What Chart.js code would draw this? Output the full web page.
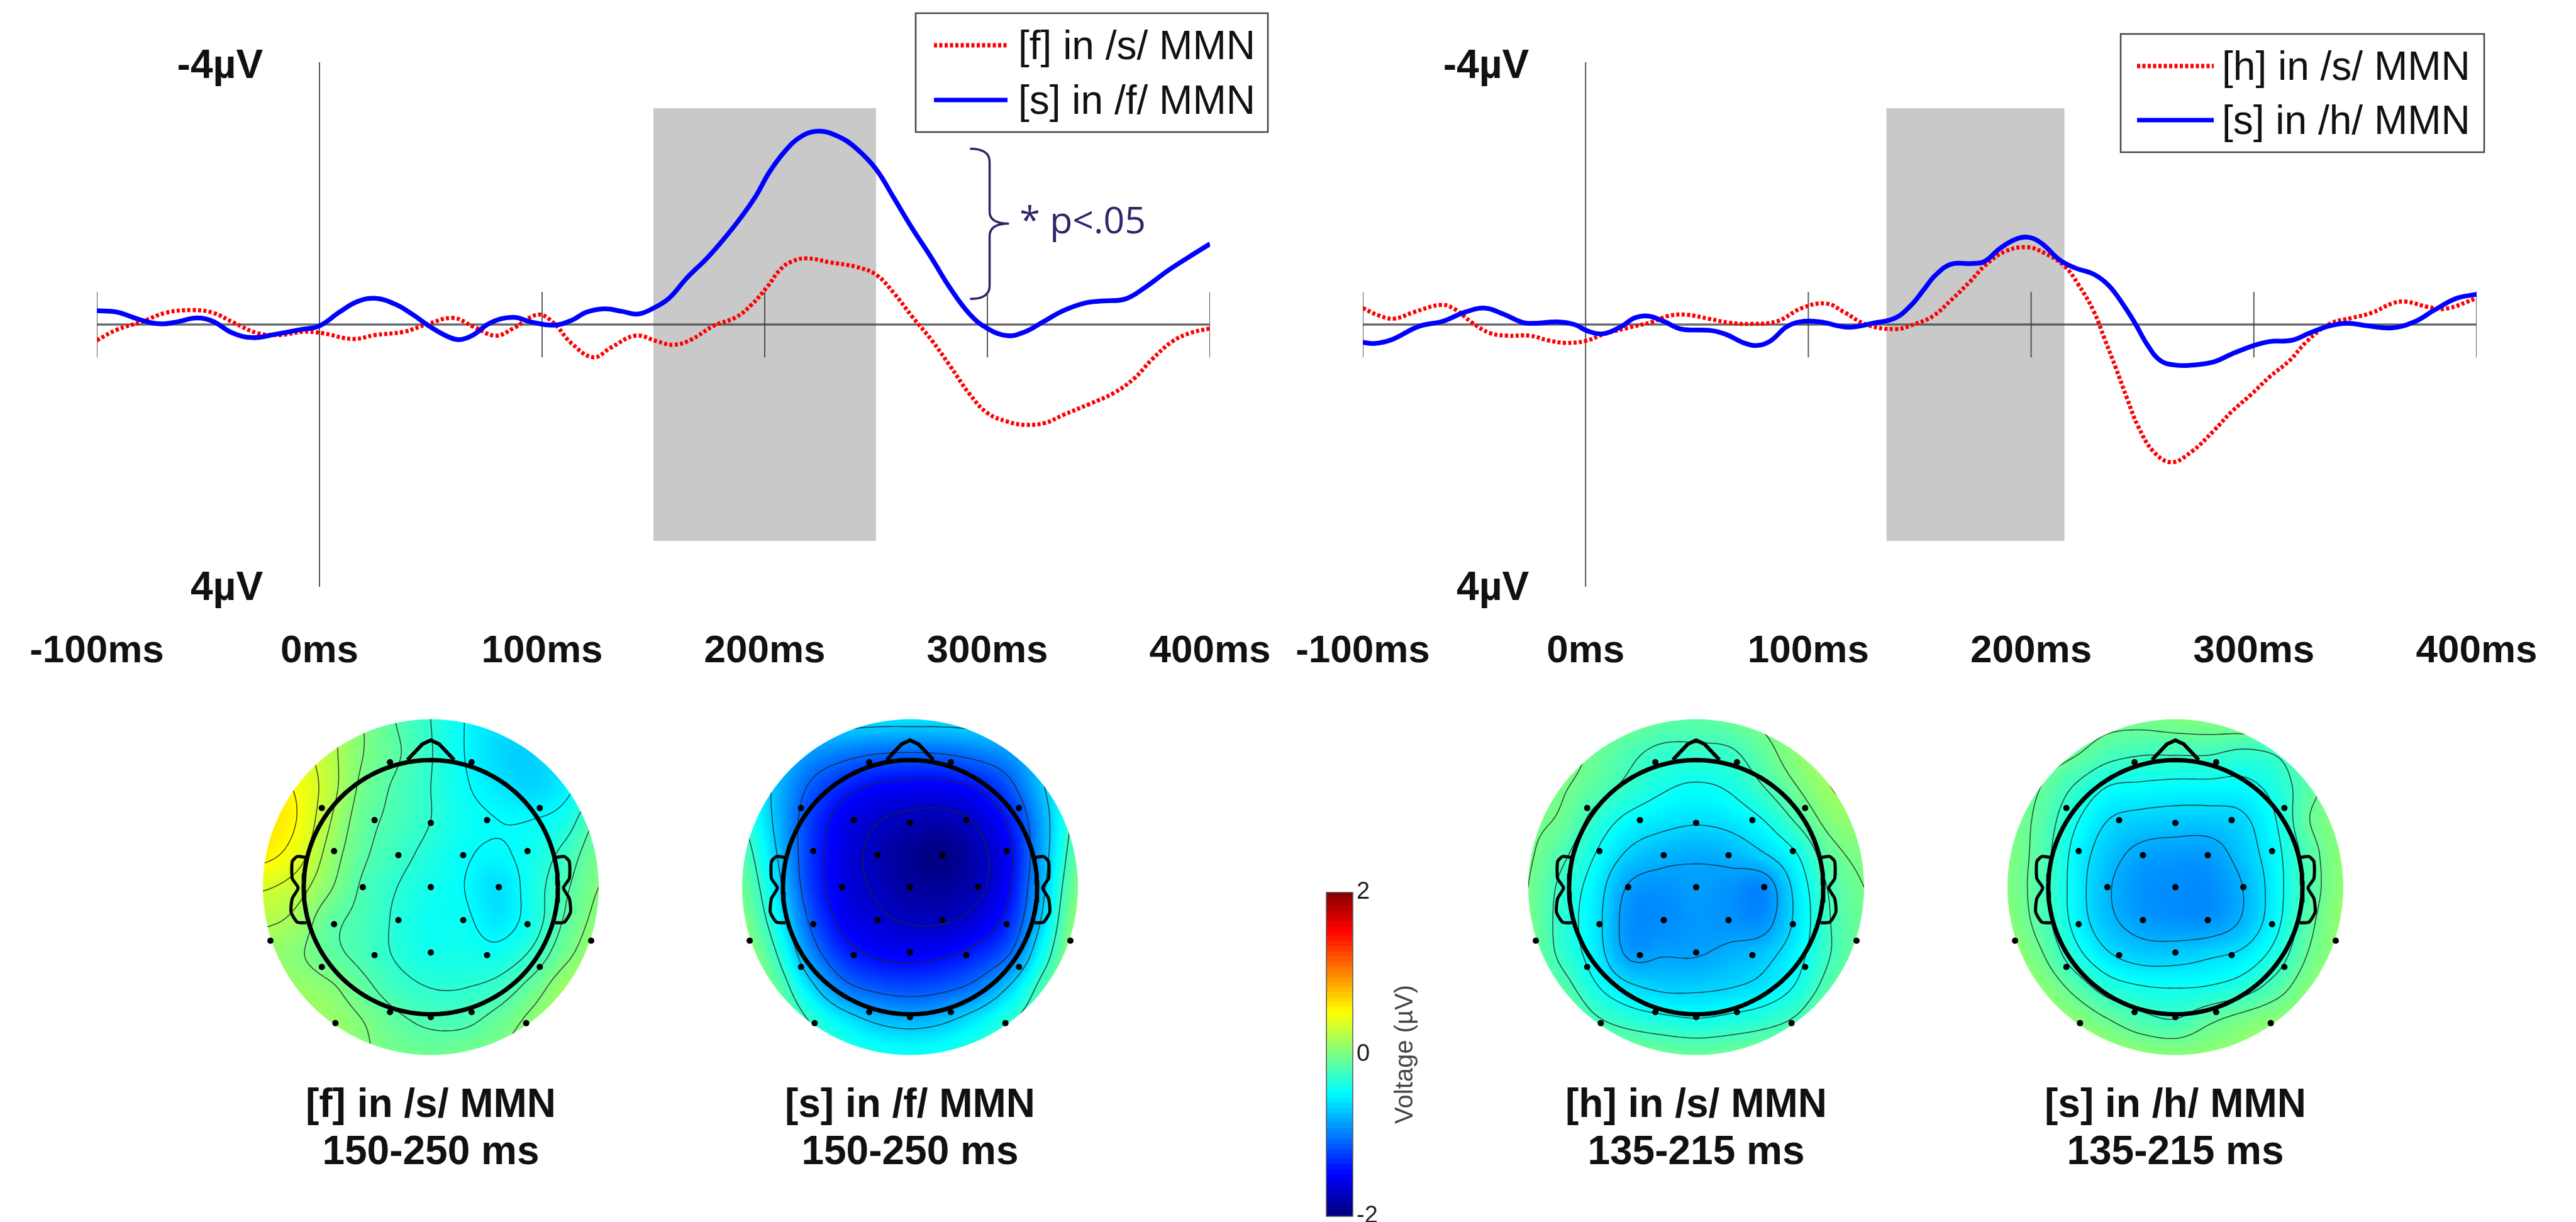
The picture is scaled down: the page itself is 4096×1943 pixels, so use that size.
<!DOCTYPE html>
<html><head><meta charset="utf-8">
<style>
html,body{margin:0;padding:0;background:#fff;width:4096px;height:1943px;overflow:hidden}
#wrap{position:fixed;left:0;top:0;width:4096px;height:1943px;overflow:hidden;background:#fff}
canvas{position:absolute;display:block}
</style>
<script src="https://cdn.jsdelivr.net/npm/chart.js@4/dist/chart.umd.min.js"></script>
</head><body><div id="wrap"></div>
<script>
/* ---------- waveform data (ms, µV; negative is plotted upward) ---------- */
const xTicks = [-100,0,100,200,300,400];
const yTicks = [-3.93,4.03];
const tickMarks = [-100,100,200,300,400];

const fsLabels = ['[f] in /s/ MMN','[s] in /f/ MMN'];
const fsWindow = [150,250];
const fsRedT = [-100,-91,-80,-69,-57,-48,-38,-28,-18,-7,1,15,25,38,48,60,69,79,87,98,105,113,123,131,142,152,159,167,177,187,194,201,207,212,219,229,241,250,258,266,275,283,292,300,309,317,326,334,346,357,366,374,383,391,400];
const fsRedV = [.24,.08,-.04,-.18,-.22,-.18,-.02,.13,.16,.11,.13,.22,.16,.11,0,-.10,.03,.17,.06,-.15,-.03,.28,.50,.35,.17,.26,.31,.23,.02,-.11,-.30,-.57,-.84,-.96,-1.01,-.95,-.88,-.76,-.48,-.13,.24,.62,1.06,1.35,1.48,1.53,1.50,1.38,1.21,1.04,.82,.53,.26,.13,.06];
const fsBlueT = [-100,-91,-83,-76,-70,-64,-55,-48,-39,-30,-20,-9,0,9,17,25,34,42,50,58,63,69,77,87,95,105,113,120,128,136,143,150,157,165,174,182,189,196,202,209,216,224,233,241,250,258,266,275,283,292,300,309,317,325,334,344,352,362,371,381,391,400];
const fsBlueV = [-.21,-.19,-.10,-.03,-.01,-.04,-.10,-.05,.13,.20,.15,.08,.02,-.19,-.35,-.40,-.31,-.15,.04,.19,.23,.16,-.03,-.11,-.04,.01,-.06,-.19,-.24,-.20,-.16,-.25,-.40,-.71,-1.01,-1.32,-1.62,-1.96,-2.32,-2.64,-2.86,-2.95,-2.87,-2.69,-2.37,-1.93,-1.48,-1.01,-.57,-.16,.06,.17,.11,-.04,-.21,-.33,-.36,-.39,-.57,-.82,-1.04,-1.23];

const hsLabels = ['[h] in /s/ MMN','[s] in /h/ MMN'];
const hsWindow = [135,215];
const hsRedT = [-100,-93,-86,-77,-65,-59,-51,-43,-35,-25,-17,-9,0,8,19,30,37,45,55,64,74,86,97,108,116,126,139,148,156,164,173,179,188,198,206,215,221,228,233,238,243,248,255,263,272,282,290,299,307,316,324,334,344,353,362,368,378,386,400];
const hsRedV = [-.25,-.14,-.09,-.19,-.30,-.24,-.03,.13,.17,.17,.24,.28,.25,.15,.05,-.04,-.13,-.15,-.09,-.03,-.01,-.05,-.25,-.32,-.19,0,.07,-.01,-.13,-.37,-.67,-.89,-1.11,-1.18,-1.09,-.89,-.62,-.21,.22,.66,1.12,1.55,1.94,2.10,1.94,1.62,1.33,1.06,.80,.55,.25,-.01,-.10,-.18,-.32,-.35,-.27,-.24,-.40];
const hsBlueT = [-100,-95,-87,-75,-64,-54,-45,-37,-28,-22,-13,-5,1,8,16,22,28,35,43,56,63,71,77,83,90,96,105,118,129,139,146,152,157,164,173,179,186,193,199,205,213,220,228,235,242,247,252,258,265,272,282,290,300,307,317,325,334,342,351,362,372,381,391,400];
const hsBlueV = [.27,.29,.23,.03,-.05,-.19,-.25,-.16,-.03,-.02,-.04,0,.10,.14,.03,-.10,-.13,-.05,.07,.09,.15,.28,.32,.25,.04,-.04,-.04,.04,-.02,-.10,-.29,-.54,-.75,-.92,-.93,-.96,-1.16,-1.30,-1.33,-1.23,-.98,-.86,-.77,-.59,-.27,0,.30,.55,.62,.62,.57,.45,.32,.26,.24,.13,.02,-.02,.02,.05,-.04,-.22,-.40,-.46];

/* ---------- scalp-map data ---------- */
const electrodesLeft = [[-.243,.742],[-.649,.47],[-.335,.398],[-.576,.214],[-.193,.19],[-.405,0],[-.576,-.22],[-.193,-.196],[-.955,-.318],[-.649,-.474],[-.335,-.404],[-.243,-.742],[-.568,-.808]];
const electrodesMid = [[0,.382],[0,0],[0,-.388],[0,-.772]];

const nosePts = [[-.139,.756],[-.05,.85],[0,.873],[.05,.85],[.139,.756]];
const earPts = [[-.74,.176],[-.795,.182],[-.825,.152],[-.825,.052],[-.79,-.004],[-.825,-.068],[-.832,-.148],[-.795,-.208],[-.74,-.212]];

// rows y = 1 … -1, columns x = -1 … 1, step 0.2 (µV)
const grid1 = [
[.3,.3,.2,0,-.18,-.33,-.5,-.6,-.6,-.5,-.4],
[.45,.4,.22,0,-.15,-.32,-.5,-.65,-.68,-.55,-.45],
[.55,.48,.24,-.05,-.2,-.33,-.48,-.58,-.66,-.55,-.35],
[.6,.5,.18,-.1,-.22,-.33,-.45,-.5,-.5,-.42,-.15],
[.55,.42,.1,-.14,-.27,-.38,-.48,-.52,-.44,-.28,-.05],
[.35,.25,.02,-.2,-.33,-.43,-.5,-.62,-.42,-.2,0],
[.2,.12,-.12,-.22,-.36,-.46,-.47,-.58,-.42,-.15,.05],
[.08,.03,-.12,-.22,-.35,-.42,-.42,-.44,-.3,-.05,.12],
[.1,.1,.03,-.12,-.26,-.33,-.33,-.27,-.1,.12,.22],
[.15,.15,.1,0,-.13,-.2,-.2,-.1,.05,.2,.28],
[.15,.15,.12,.02,-.05,-.08,-.05,0,.1,.2,.25]];
const grid2 = [
[-.35,-.45,-.55,-.6,-.62,-.62,-.62,-.6,-.55,-.45,-.35],
[-.42,-.65,-.88,-1,-1.08,-1.1,-1.08,-1,-.88,-.6,-.35],
[-.4,-.75,-1.12,-1.35,-1.48,-1.52,-1.52,-1.42,-1.15,-.7,-.3],
[-.3,-.75,-1.25,-1.55,-1.7,-1.78,-1.8,-1.68,-1.38,-.8,-.22],
[-.18,-.68,-1.28,-1.6,-1.78,-1.92,-1.98,-1.8,-1.48,-.8,-.12],
[-.08,-.58,-1.25,-1.6,-1.75,-1.88,-1.9,-1.78,-1.45,-.72,-.02],
[0,-.45,-1.12,-1.52,-1.66,-1.74,-1.74,-1.62,-1.32,-.62,.08],
[.12,-.28,-.92,-1.32,-1.48,-1.52,-1.48,-1.35,-1.08,-.42,.12],
[.15,-.1,-.6,-1,-1.15,-1.2,-1.15,-1,-.65,-.18,.12],
[.12,0,-.3,-.55,-.72,-.78,-.72,-.55,-.32,-.1,.05],
[0,-.05,-.2,-.33,-.42,-.45,-.42,-.33,-.2,-.08,0]];
const grid3 = [
[-.02,0,0,-.05,-.12,-.15,-.1,-.02,.05,.12,.15],
[0,.02,-.08,-.2,-.3,-.3,-.28,-.12,.05,.15,.2],
[0,-.03,-.15,-.3,-.42,-.47,-.42,-.25,-.05,.12,.18],
[-.02,-.08,-.32,-.5,-.58,-.62,-.58,-.45,-.22,.02,.08],
[-.03,-.2,-.45,-.68,-.78,-.82,-.78,-.66,-.45,-.12,0],
[-.05,-.3,-.55,-.87,-.92,-.88,-.92,-.96,-.58,-.22,-.05],
[-.05,-.33,-.58,-.93,-.95,-.9,-.92,-.93,-.6,-.25,-.08],
[-.05,-.3,-.55,-.88,-.86,-.86,-.8,-.72,-.52,-.25,-.08],
[0,-.15,-.42,-.6,-.68,-.68,-.65,-.58,-.42,-.15,0],
[.05,.02,-.2,-.32,-.38,-.42,-.38,-.32,-.2,.05,.12],
[.08,.08,.05,-.02,-.08,-.1,-.08,-.02,.05,.12,.15]];
const grid4 = [
[.03,.02,0,-.05,-.05,-.02,0,.03,.05,.02,0],
[0,-.02,-.08,-.2,-.25,-.25,-.25,-.3,-.25,-.1,-.03],
[-.02,-.1,-.28,-.45,-.48,-.5,-.5,-.5,-.38,-.15,-.03],
[-.02,-.15,-.42,-.62,-.68,-.7,-.7,-.65,-.45,-.1,.02],
[0,-.18,-.5,-.72,-.85,-.88,-.88,-.72,-.5,-.18,.05],
[0,-.2,-.52,-.78,-.92,-.95,-.95,-.8,-.52,-.2,.05],
[.03,-.18,-.5,-.75,-.88,-.92,-.92,-.78,-.5,-.15,.08],
[.1,-.08,-.38,-.6,-.7,-.7,-.65,-.58,-.38,-.08,.08],
[.15,.05,-.15,-.35,-.43,-.45,-.43,-.35,-.18,.02,.12],
[.18,.15,.05,-.08,-.2,-.25,-.12,-.02,.05,.1,.15],
[.18,.18,.15,.1,.05,.03,.05,.08,.12,.15,.15]];
const levels1 = [-.5,-.33,-.17,0,.17,.33,.5];
const levels2 = [-1.72,-1.45,-1.1,-.7,-.3,.05];
const levels3 = [-.85,-.65,-.45,-.25,-.05,.12];
const levels4 = [-.8,-.62,-.45,-.27,-.1,.07];
const title1 = ['[f] in /s/ MMN','150-250 ms'];
const title2 = ['[s] in /f/ MMN','150-250 ms'];
const title3 = ['[h] in /s/ MMN','135-215 ms'];
const title4 = ['[s] in /h/ MMN','135-215 ms'];
const colorbarTicks = [-2,0,2];
const colorbarLabel = 'Voltage (µV)';

/* ---------- helpers ---------- */
Chart.defaults.font.family = "'Liberation Sans',Arial,sans-serif";
Chart.defaults.animation = false;
const wrap = document.getElementById('wrap');
function mk(l,t,w,h){const c=document.createElement('canvas');c.width=w;c.height=h;c.style.left=l+'px';c.style.top=t+'px';c.style.width=w+'px';c.style.height=h+'px';wrap.appendChild(c);return c;}
const zip=(a,b)=>a.map((v,i)=>({x:v,y:b[i]}));
const clamp=v=>Math.max(0,Math.min(1,v));
function jet(v){const t=(v+2)/4;return [clamp(1.5-Math.abs(4*t-3)),clamp(1.5-Math.abs(4*t-2)),clamp(1.5-Math.abs(4*t-1))];}
const css=c=>`rgb(${Math.round(c[0]*255)},${Math.round(c[1]*255)},${Math.round(c[2]*255)})`;
const TOPSHIFT=40;

function lineChart(o){
  const c=mk(o.left,-TOPSHIFT,o.width,1100+TOPSHIFT);
  const tickData=[];
  tickMarks.forEach(t=>{tickData.push({x:t,y:-.5},{x:t,y:.5},{x:null,y:null});});
  const overlay={id:'overlay',afterDatasetsDraw(ch){
    const g=ch.ctx,X=ch.scales.x,Y=ch.scales.y;
    const L=o.legend;
    g.save();
    if(o.brace){
      const B=o.brace,px=v=>X.getPixelForValue(v),py=v=>Y.getPixelForValue(v);
      g.strokeStyle='#33236b';g.lineWidth=3.5;g.beginPath();
      g.moveTo(px(B.x0),py(B.y[0]));
      g.quadraticCurveTo(px(B.x1),py(B.y[0]),px(B.x1),py(B.y[1]));
      g.lineTo(px(B.x1),py(B.y[2]));
      g.quadraticCurveTo(px(B.x1),py(B.y[3]),px(B.x2),py(B.y[3]));
      g.quadraticCurveTo(px(B.x1),py(B.y[3]),px(B.x1),py(B.y[4]));
      g.lineTo(px(B.x1),py(B.y[5]));
      g.quadraticCurveTo(px(B.x1),py(B.y[6]),px(B.x0),py(B.y[6]));
      g.stroke();
      g.font="59px 'Open Sans'";g.fillStyle='#33236b';g.textBaseline='alphabetic';g.textAlign='left';
      g.fillText(B.text,px(B.tx),py(B.ty));
    }
    // legend, built from the dataset labels (positions given in window pixels)
    g.translate(-o.left,TOPSHIFT);
    g.fillStyle='#fff';g.fillRect(L.x,L.y,L.w,L.h);
    g.strokeStyle='#444';g.lineWidth=2.5;g.strokeRect(L.x,L.y,L.w,L.h);
    g.font="64px 'Liberation Sans'";g.textBaseline='middle';g.textAlign='left';g.fillStyle='#111';
    [[o.labels[0],'#ff0000',[5,3.5],L.y1],[o.labels[1],'#0000ff',[],L.y2]].forEach(r=>{
      g.strokeStyle=r[1];g.lineWidth=7;g.setLineDash(r[2]);
      g.beginPath();g.moveTo(L.sx0,r[3]);g.lineTo(L.sx1,r[3]);g.stroke();g.setLineDash([]);
      g.fillText(r[0],L.tx,r[3]+4);
    });
    g.restore();
  }};
  new Chart(c,{type:'line',plugins:[overlay],data:{datasets:[
    {label:'window',data:[{x:o.win[0],y:-3.3},{x:o.win[1],y:-3.3}],borderWidth:0,pointRadius:0,backgroundColor:'#c9c9c9',fill:{value:3.3},order:6},
    {label:'zero',data:[{x:-100,y:0},{x:400,y:0}],borderColor:'rgba(70,70,70,.8)',borderWidth:3.5,pointRadius:0,order:5},
    {label:'onset',data:[{x:0,y:-4},{x:0,y:4}],borderColor:'#555',borderWidth:2,pointRadius:0,order:4},
    {label:'ticks',data:tickData,borderColor:'rgba(50,50,50,.8)',borderWidth:2,pointRadius:0,spanGaps:false,order:3},
    {label:o.labels[0],data:zip(o.rt,o.rv),borderColor:'#ff0000',borderWidth:6.5,borderDash:[5,3.5],pointRadius:0,tension:.4,order:2},
    {label:o.labels[1],data:zip(o.bt,o.bv),borderColor:'#0000ff',borderWidth:7.5,pointRadius:0,tension:.4,order:1}
  ]},options:{responsive:false,devicePixelRatio:1,animation:false,
    layout:{padding:{left:o.pl,right:o.pr,top:99+TOPSHIFT,bottom:0}},
    plugins:{legend:{display:false},tooltip:{enabled:false},title:{display:false}},
    scales:{
      x:{type:'linear',min:-100,max:400,grid:{display:false},border:{display:false},
        afterBuildTicks:s=>{s.ticks=xTicks.map(v=>({value:v}));},
        afterFit:s=>{s.height=167;},
        ticks:{autoSkip:false,maxRotation:0,padding:58,color:'#111',font:{size:62,weight:'bold'},callback:v=>v+'ms'}},
      y:{type:'linear',min:-4,max:4,reverse:true,position:{x:-25.4},
        grid:{display:false,drawTicks:false},border:{display:false},
        afterBuildTicks:s=>{s.ticks=yTicks.map(v=>({value:v}));},
        ticks:{autoSkip:false,padding:0,color:'#111',font:{size:64,weight:'bold'},callback:v=>Math.round(v)+'µV'}}
    }}});
}

function topo(o){
  const W=620,H=747,top=1133;
  const c=mk(o.cx-W/2,top,W,H);
  const cell=.2;
  const g0=o.grid;
  const at=(r,q)=>g0[Math.max(0,Math.min(10,r))][Math.max(0,Math.min(10,q))];
  const cr=(a,b,c2,d,t)=>.5*(2*b+(c2-a)*t+(2*a-5*b+4*c2-d)*t*t+(3*b-a-3*c2+d)*t*t*t);
  function field(x,y){
    const u=(x+1)/cell,w=(1-y)/cell,q=Math.floor(u),r=Math.floor(w),tx=u-q,ty=w-r,rows=[];
    for(let j=-1;j<=2;j++)rows.push(cr(at(r+j,q-1),at(r+j,q),at(r+j,q+1),at(r+j,q+2),tx));
    return cr(rows[0],rows[1],rows[2],rows[3],ty);
  }
  const heat={id:'heat',beforeDatasetsDraw(ch){
    const g=ch.ctx,X=ch.scales.x,Y=ch.scales.y;
    const x0=X.getPixelForValue(-1),x1=X.getPixelForValue(1),y0=Y.getPixelForValue(1),y1=Y.getPixelForValue(-1);
    const w=Math.round(x1-x0),h=Math.round(y1-y0);
    const off=document.createElement('canvas');off.width=w;off.height=h;
    const oc=off.getContext('2d'),im=oc.createImageData(w,h);
    for(let j=0;j<h;j++)for(let i=0;i<w;i++){
      const col=jet(field(-1+2*(i+.5)/w,1-2*(j+.5)/h)),p=(j*w+i)*4;
      im.data[p]=col[0]*255;im.data[p+1]=col[1]*255;im.data[p+2]=col[2]*255;im.data[p+3]=255;
    }
    oc.putImageData(im,0,0);
    g.save();
    g.beginPath();g.arc((x0+x1)/2,(y0+y1)/2,w/2,0,Math.PI*2);g.clip();
    g.drawImage(off,x0,y0,x1-x0,y1-y0);
    g.strokeStyle='rgba(35,35,35,.8)';g.lineWidth=1.6;g.beginPath();
    const n=110,d=2/n,f=[];
    for(let j=0;j<=n;j++){f.push([]);for(let i=0;i<=n;i++)f[j].push(field(-1+i*d,1-j*d));}
    const px=(i,j)=>[x0+(x1-x0)*i/n,y0+(y1-y0)*j/n];
    o.levels.forEach(l=>{
      for(let j=0;j<n;j++)for(let i=0;i<n;i++){
        const a=f[j][i],b=f[j][i+1],e=f[j+1][i+1],k=f[j+1][i],pts=[];
        if((a<l)!==(b<l))pts.push(px(i+(l-a)/(b-a),j));
        if((b<l)!==(e<l))pts.push(px(i+1,j+(l-b)/(e-b)));
        if((k<l)!==(e<l))pts.push(px(i+(l-k)/(e-k),j+1));
        if((a<l)!==(k<l))pts.push(px(i,j+(l-a)/(k-a)));
        if(pts.length>=2){g.moveTo(pts[0][0],pts[0][1]);g.lineTo(pts[1][0],pts[1][1]);}
        if(pts.length===4){g.moveTo(pts[2][0],pts[2][1]);g.lineTo(pts[3][0],pts[3][1]);}
      }
    });
    g.stroke();
    g.restore();
  }};
  const ring=[];for(let a=0;a<=180;a++){const t=a/180*Math.PI*2;ring.push({x:.757*Math.cos(t),y:.755*Math.sin(t)});}
  const pts=a=>a.map(p=>({x:p[0],y:p[1]}));
  const mir=a=>a.map(p=>({x:-p[0],y:p[1]}));
  const elec=pts(electrodesMid).concat(pts(electrodesLeft),mir(electrodesLeft));
  const outline={showLine:true,pointRadius:0,borderColor:'#000'};
  new Chart(c,{type:'scatter',plugins:[heat],data:{datasets:[
    {label:'electrodes',data:elec,pointRadius:5,pointBackgroundColor:'#000',pointBorderWidth:0,order:1},
    {...outline,label:'head',data:ring,borderWidth:7,order:2},
    {...outline,label:'nose',data:pts(nosePts),borderWidth:6,order:2},
    {...outline,label:'ear',data:pts(earPts),borderWidth:5,tension:.2,order:2},
    {...outline,label:'ear',data:mir(earPts),borderWidth:5,tension:.2,order:2}
  ]},options:{responsive:false,devicePixelRatio:1,animation:false,
    layout:{padding:{left:43,right:43,top:10,bottom:9}},
    plugins:{legend:{display:false},tooltip:{enabled:false},
      title:{display:true,position:'bottom',text:o.title,color:'#111',font:{size:64,weight:'bold',lineHeight:1.17},padding:{top:43,bottom:0}}},
    scales:{x:{type:'linear',min:-1,max:1,display:false},y:{type:'linear',min:-1,max:1,display:false}}
  }});
}

lineChart({left:-40,width:2120,pl:194,pr:156,labels:fsLabels,win:fsWindow,rt:fsRedT,rv:fsRedV,bt:fsBlueT,bv:fsBlueV,
  legend:{x:1456,y:21,w:560,h:189,sx0:1485,sx1:1602,tx:1619,y1:72,y2:159},
  brace:{x0:292.2,x1:301,x2:309.7,y:[-2.68,-2.48,-1.72,-1.54,-1.35,-.59,-.39],text:'* p<.05',tx:314.5,ty:-1.39}});
lineChart({left:2000,width:2096,pl:167,pr:158,labels:hsLabels,win:hsWindow,rt:hsRedT,rv:hsRedV,bt:hsBlueT,bv:hsBlueV,
  legend:{x:3372,y:54,w:578,h:188,sx0:3398,sx1:3520,tx:3533,y1:105,y2:191}});

topo({cx:685,grid:grid1,levels:levels1,title:title1});
topo({cx:1447,grid:grid2,levels:levels2,title:title2});
topo({cx:2697,grid:grid3,levels:levels3,title:title3});
topo({cx:3459,grid:grid4,levels:levels4,title:title4});

/* ---------- colour bar ---------- */
(function(){
  const c=mk(2100,1380,170,600);
  const steps=64,ds=[];
  for(let i=0;i<steps;i++){
    const lo=-2+4*i/steps,hi=-2+4*(i+1)/steps;
    ds.push({label:'level',data:[[lo,Math.min(2,hi+.02)]],backgroundColor:css(jet((lo+hi)/2)),borderWidth:0,barPercentage:1,categoryPercentage:1});
  }
  const deco={id:'deco',afterDraw(ch){
    const g=ch.ctx,a=ch.chartArea;
    g.save();g.strokeStyle='#555';g.lineWidth=1.5;g.strokeRect(a.left,a.top,a.right-a.left,a.bottom-a.top);
    g.translate(135,ch.scales.y.getPixelForValue(0));g.rotate(-Math.PI/2);
    g.font="40px 'Liberation Sans'";g.fillStyle='#444';g.textAlign='center';g.textBaseline='middle';
    g.fillText(colorbarLabel,0,0);g.restore();
  }};
  new Chart(c,{type:'bar',plugins:[deco],data:{labels:['v'],datasets:ds},options:{responsive:false,devicePixelRatio:1,animation:false,
    layout:{padding:{left:9,right:0,top:39,bottom:46}},
    plugins:{legend:{display:false},tooltip:{enabled:false}},
    scales:{x:{display:false,stacked:true},
      y:{position:'right',min:-2,max:2,stacked:false,grid:{display:false,drawTicks:false},border:{display:false},
        afterBuildTicks:s=>{s.ticks=colorbarTicks.map(v=>({value:v}));},
        afterFit:s=>{s.width=119;},
        ticks:{padding:6,color:'#222',font:{size:38},callback:v=>String(v)}}}
  }});
})();
</script></body></html>
